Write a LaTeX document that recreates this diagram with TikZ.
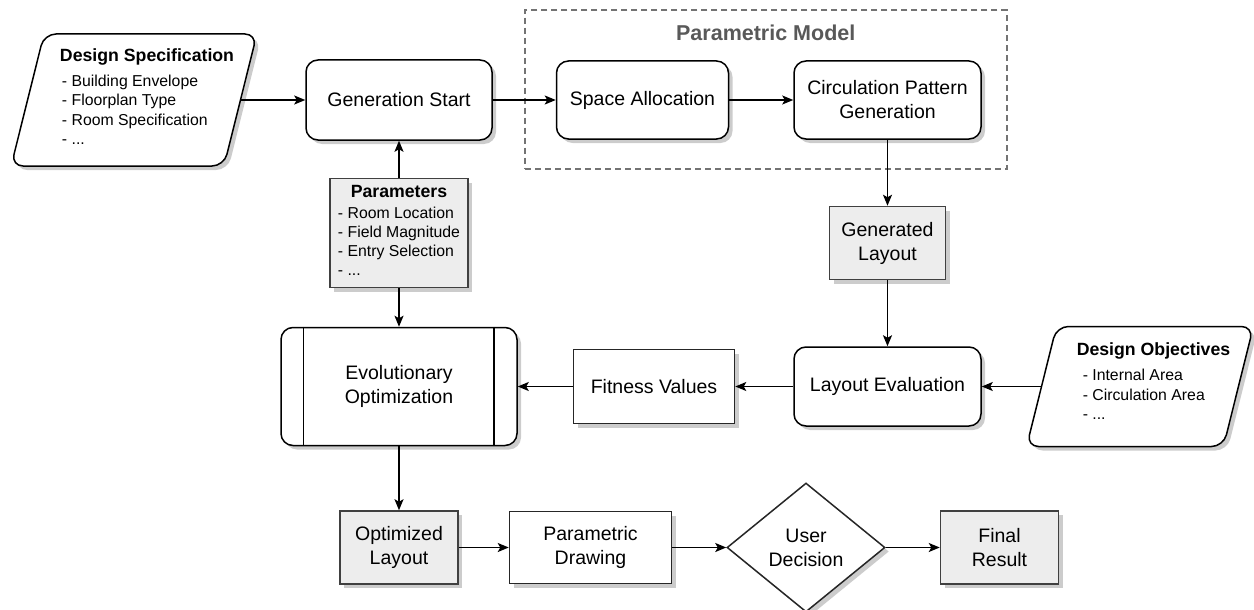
\documentclass[tikz,border=0pt]{standalone}
\usepackage{fontspec}
\setmainfont{Liberation Sans}
\usepackage{tikz}
\usetikzlibrary{shapes.geometric, positioning, calc, fit, shadows, arrows.meta}

\newcommand{\mainsize}{\fontsize{19.5}{24}\selectfont}
\newcommand{\listsize}{\fontsize{15.8}{19.3}\selectfont}
\newcommand{\headsize}{\fontsize{17.7}{19.3}\selectfont\bfseries}
\newcommand{\bodybox}[2]{\phantom{\rule{#1}{#2}}}

\begin{document}
\begin{tikzpicture}[x=1pt, y=1pt, line width=1.5pt, >={Stealth[length=11pt, width=9pt, inset=2.5pt]},
    shadowed/.style = {drop shadow={shadow xshift=4pt, shadow yshift=-4pt, opacity=0.2, fill=black}},
    roundbox/.style = {draw, rounded corners=12pt, fill=white, shadowed, align=center, font=\mainsize, inner sep=2pt},
    rectbox/.style = {draw=black!85, fill=white, shadowed, align=center, font=\mainsize, inner sep=2pt},
    greybox/.style = {rectbox, draw=black!75, fill=black!7},
    databox/.style = {draw, trapezium, trapezium left angle=76, trapezium right angle=104, rounded corners=12pt, fill=white, shadowed, inner sep=0pt},
    choicebox/.style = {draw=black!85, diamond, fill=white, shadowed, align=center, font=\mainsize, inner sep=0pt},
    modelbox/.style = {draw=black!55, dash pattern=on 6pt off 4pt, inner sep=0pt},
    modeltitle/.style = {font=\fontsize{21.5}{24}\selectfont\bfseries, text=black!65},
    listtext/.style = {font=\listsize, inner sep=0pt}]
    \useasboundingbox (0,0) rectangle (1254,-610);

    % top row
    \node[roundbox, minimum width=186pt, minimum height=80pt] (gen) at (399,-100) {Generation Start};
    \node[roundbox, minimum width=172pt, minimum height=78pt] (space) [right=63pt of gen] {Space Allocation};
    \node[roundbox, minimum width=187pt, minimum height=78pt] (circ) [right=64pt of space] {Circulation Pattern\\Generation};
    \node[databox] (spec) [left=64pt of gen] {\bodybox{180pt}{132pt}};
    \node[listtext] (specTxt) at ($(spec.center)+(13,1)$) {\begin{tabular}{@{}l@{}}
        {\headsize Design Specification}\\[6pt]
        \hspace*{2pt}- Building Envelope\\
        \hspace*{2pt}- Floorplan Type\\
        \hspace*{2pt}- Room Specification\\
        \hspace*{2pt}- ...
      \end{tabular}};

    % parametric model frame
    \node[modelbox, fit={($(space.north west)+(-31,50)$) ($(circ.south east)+(25,-29)$)}] (model) {};
    \node[modeltitle] (modelTitle) at ($(model.north)+(0,-23)$) {Parametric Model};

    % middle row
    \node[greybox, minimum width=138pt, minimum height=109pt, font=\listsize] (params) [below=37pt of gen] {\begin{tabular}{@{}l@{}}
        \multicolumn{1}{@{}c@{}}{\headsize Parameters}\\[1pt]
        - Room Location\\
        - Field Magnitude\\
        - Entry Selection\\
        - ...
      \end{tabular}};
    \node[greybox, minimum width=116pt, minimum height=73pt] (genLay) [below=66pt of circ] {Generated\\Layout};
    \node[roundbox, minimum width=187pt, minimum height=79pt] (layEval) [below=66pt of genLay] {Layout Evaluation};
    \node[rectbox, minimum width=161pt, minimum height=74pt] (fitVal) [left=58pt of layEval] {Fitness Values};
    \node[roundbox, minimum width=236pt, minimum height=118pt] (evo) [left=55pt of fitVal] {Evolutionary\\Optimization};
    \draw ($(evo.north west)+(23,0)$) -- ($(evo.south west)+(23,0)$);
    \draw ($(evo.north east)+(-24,0)$) -- ($(evo.south east)+(-24,0)$);
    \node[databox] (obj) [right=59pt of layEval] {\bodybox{167pt}{120pt}};
    \node[listtext] (objTxt) at ($(obj.center)+(13.5,3)$) {\begin{tabular}{@{}l@{}}
        {\headsize Design Objectives}\\[6pt]
        \hspace*{6pt}- Internal Area\\
        \hspace*{6pt}- Circulation Area\\
        \hspace*{6pt}- ...
      \end{tabular}};

    % bottom row
    \node[greybox, minimum width=118pt, minimum height=73pt] (opt) [below=64pt of evo] {Optimized\\Layout};
    \node[rectbox, minimum width=162pt, minimum height=72pt] (paraDraw) [right=50pt of opt] {Parametric\\Drawing};
    \node[choicebox, minimum width=158pt, minimum height=129pt] (dec) [right=54pt of paraDraw] {User\\Decision};
    \node[greybox, minimum width=118pt, minimum height=73pt] (final) [right=54pt of dec] {Final\\Result};

    \draw[->] (spec.east) -- (gen.west);
    \draw[->] (gen) -- (space);
    \draw[->] (space) -- (circ);
    \draw[->] (circ) -- (genLay);
    \draw[->] (genLay) -- (layEval);
    \draw[->] (obj.west) -- (layEval.east);
    \draw[->] (layEval) -- (fitVal);
    \draw[->] (fitVal) -- (evo);
    \draw[->] (params) -- (gen);
    \draw[->] (params) -- (evo);
    \draw[->] (evo) -- (opt);
    \draw[->] (opt) -- (paraDraw);
    \draw[->] (paraDraw) -- (dec);
    \draw[->] (dec) -- (final);
\end{tikzpicture}
\end{document}
